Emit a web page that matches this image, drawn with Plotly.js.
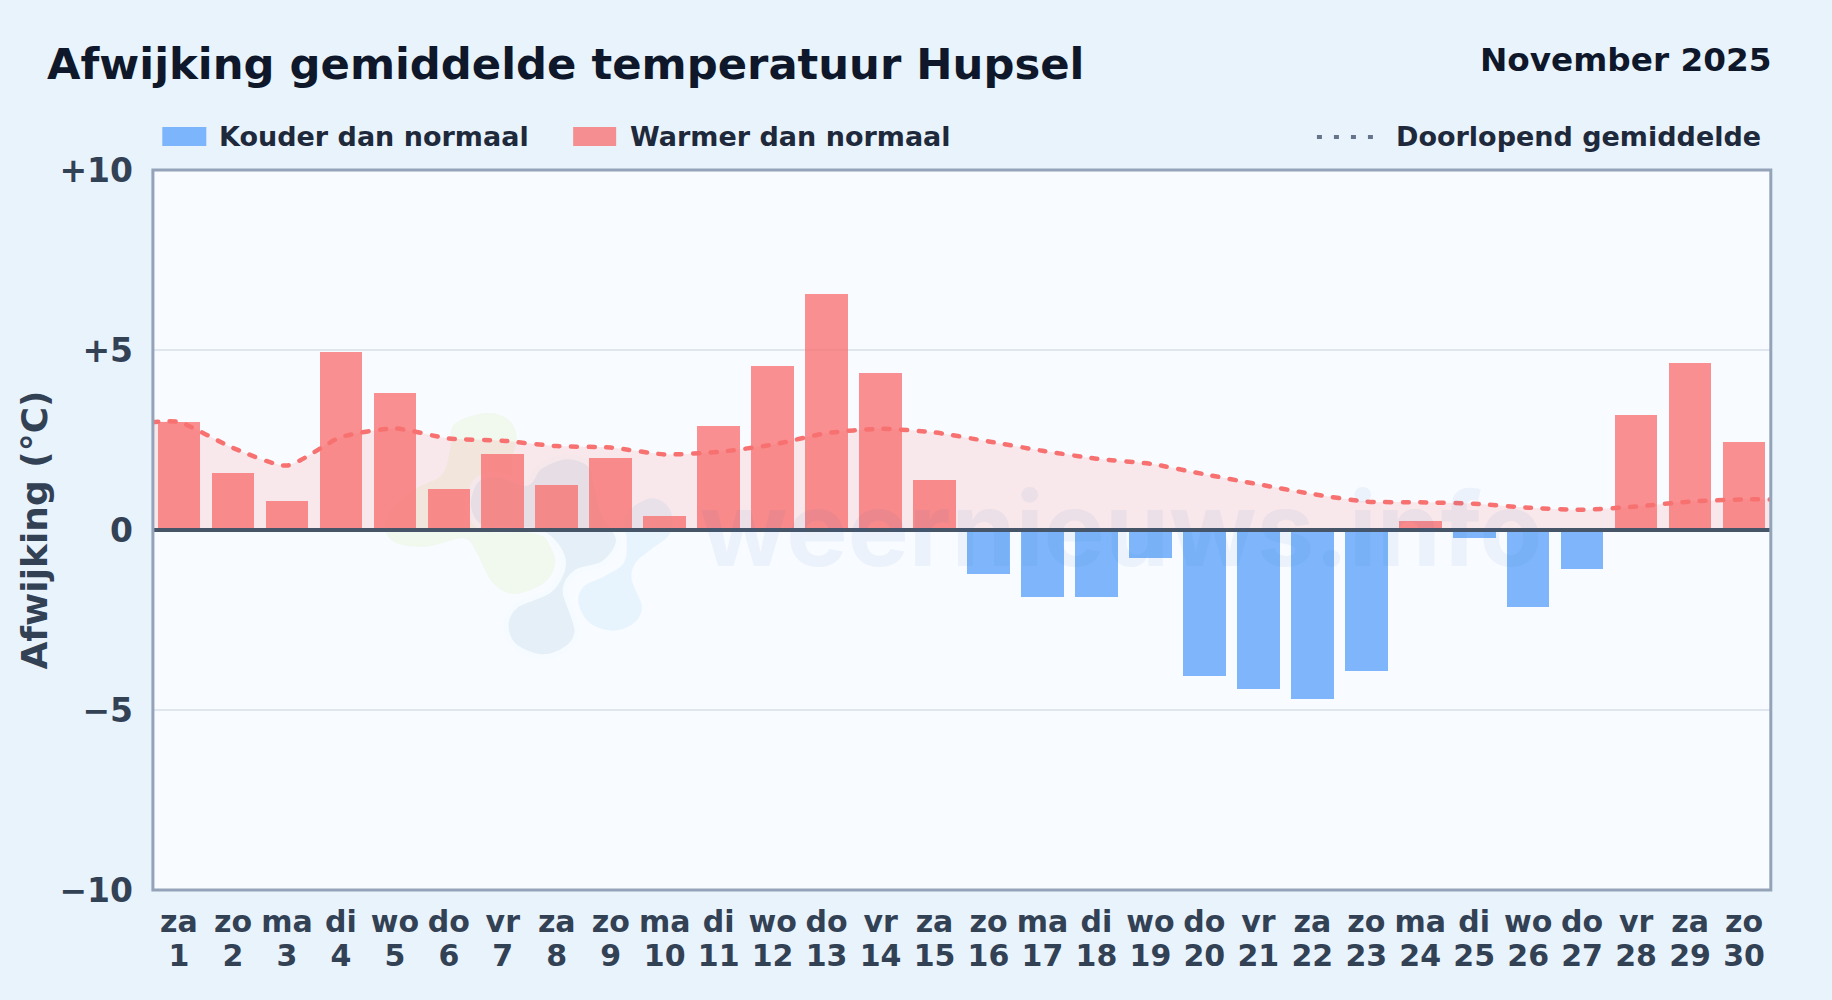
<!DOCTYPE html>
<html><head><meta charset="utf-8">
<script src="https://cdn.plot.ly/plotly-3.0.1.min.js"></script>
<style>
html,body{margin:0;padding:0;background:#e8f3fc;}
#chart{width:1832px;height:1000px;}
.scatterlayer .js-line{stroke-linecap:round;}
</style></head><body><div id="chart"></div>
<script>
const days = [1,2,3,4,5,6,7,8,9,10,11,12,13,14,15,16,17,18,19,20,21,22,23,24,25,26,27,28,29,30];
const weekdays = ['za','zo','ma','di','wo','do','vr','za','zo','ma','di','wo','do','vr','za','zo','ma','di','wo','do','vr','za','zo','ma','di','wo','do','vr','za','zo'];
const deviation = [3.0,1.57,0.8,4.95,3.8,1.15,2.1,1.25,2.0,0.4,2.9,4.55,6.55,4.35,1.4,-1.22,-1.87,-1.87,-0.77,-4.05,-4.43,-4.7,-3.92,0.25,-0.22,-2.13,-1.09,3.2,4.65,2.45];
const runningMean = [3.0,2.28,1.79,2.58,2.82,2.54,2.48,2.33,2.29,2.10,2.17,2.37,2.69,2.81,2.71,2.46,2.20,1.98,1.84,1.55,1.27,1.00,0.79,0.77,0.73,0.62,0.56,0.65,0.79,0.85];
const yTickValues = [10,5,0,-5,-10];
const yTickLabels = ['+10','+5','0','\u22125','\u221210'];
const titleText = 'Afwijking gemiddelde temperatuur Hupsel';
const periodText = 'November 2025';
const coldName = 'Kouder dan normaal';
const warmName = 'Warmer dan normaal';
const meanName = 'Doorlopend gemiddelde';

const W=1832,H=1000,L=151.7,R=1771.2,T=170,B=890;
const px=x=>(x-L)/(R-L), py=y=>(B-y)/(B-T);
const FONT='"DejaVu Sans", sans-serif';
const zx=z=>370+z/3, zy=z=>400+z/3;
function blob(pts){
  const P=pts.map(p=>[px(zx(p[0])),py(zy(p[1]))]),n=P.length;
  let d=`M${P[0][0]},${P[0][1]}`;
  for(let i=0;i<n;i++){
    const a=P[(i-1+n)%n],b=P[i],c=P[(i+1)%n],e=P[(i+2)%n];
    d+=`C${b[0]+(c[0]-a[0])/6},${b[1]+(c[1]-a[1])/6} ${c[0]-(e[0]-b[0])/6},${c[1]-(e[1]-b[1])/6} ${c[0]},${c[1]}`;
  }
  return d+'Z';
}
const greenBlob=[[340,40],[410,55],[440,110],[425,190],[450,300],[530,420],[555,490],[520,550],[430,582],[365,545],[320,460],[280,415],[170,440],[80,430],[45,390],[60,330],[140,265],[215,225],[240,150],[250,75]];
const lightBlob=[[790,320],[850,295],[900,330],[900,400],[840,450],[795,490],[785,540],[815,620],[790,670],[730,692],[660,670],[625,610],[640,560],[700,530],[760,490],[770,420],[760,360]];
const greyBlob=[[590,170],[660,195],[680,260],[700,340],[745,420],[700,490],[620,515],[585,570],[610,650],[620,700],[590,745],[515,770],[430,735],[408,670],[440,615],[540,570],[580,490],[545,420],[480,390],[340,385],[295,320],[320,240],[390,225],[470,250],[510,200]];

const lineX=[0.5,...days,30.5], lineY=[runningMean[0],...runningMean,runningMean[29]];
const traces=[
 {type:'scatter',mode:'none',x:lineX,y:lineY,line:{shape:'spline',smoothing:0.6},fill:'tozeroy',fillcolor:'rgba(248,113,113,0.14)',showlegend:false,hoverinfo:'skip'},
 {type:'bar',name:coldName,x:days.filter((d,i)=>deviation[i]<0),y:deviation.filter(v=>v<0),width:0.79,marker:{color:'rgba(96,165,250,0.8)',line:{width:0}},showlegend:false},
 {type:'bar',name:warmName,x:days.filter((d,i)=>deviation[i]>=0),y:deviation.filter(v=>v>=0),width:0.79,marker:{color:'rgba(248,113,113,0.78)',line:{width:0}},showlegend:false},
 {type:'scatter',mode:'lines',name:meanName,x:lineX,y:lineY,line:{shape:'spline',smoothing:0.6,color:'#f87171',width:4.5,dash:'6px,11.5px'},showlegend:false}
];
const layout={
 width:W,height:H,paper_bgcolor:'#e8f3fc',plot_bgcolor:'#f8fbff',
 margin:{l:L,r:W-R,t:T,b:H-B,pad:0},
 barmode:'overlay',bargap:0,
 font:{family:FONT},
 xaxis:{range:[0.5,30.5],tickmode:'array',tickvals:days,ticktext:weekdays.map((w,i)=>w+'<br>'+days[i]),tickfont:{family:FONT,size:30,color:'#334155',weight:700},ticks:'',showgrid:false,zeroline:false,showline:false,ticklabelstandoff:11,tickangle:0},
 yaxis:{range:[-10,10],tickmode:'array',tickvals:yTickValues,ticktext:yTickLabels,tickfont:{family:FONT,size:33,color:'#334155',weight:700},ticks:'',showgrid:true,gridcolor:'#dfe6ee',gridwidth:2,zeroline:false,showline:false,ticklabelstandoff:18,
   title:{text:'Afwijking (°C)',font:{family:FONT,size:36,color:'#334155',weight:700},standoff:0}},
 shapes:[
  {type:'path',xref:'paper',yref:'paper',layer:'below',path:blob(greenBlob),fillcolor:'#f1f8ee',line:{width:0}},
  {type:'path',xref:'paper',yref:'paper',layer:'below',path:blob(lightBlob),fillcolor:'#e7f4fd',line:{width:0}},
  {type:'path',xref:'paper',yref:'paper',layer:'below',path:blob(greyBlob),fillcolor:'#e5eff8',line:{width:5,color:'#f6fbff'}},
  {type:'line',xref:'paper',yref:'y',x0:0,x1:1,y0:0,y1:0,layer:'above',line:{color:'#475569',width:4}},
  {type:'rect',xref:'paper',yref:'paper',x0:px(152.6),x1:px(1771),y0:py(890),y1:py(170),layer:'above',fillcolor:'rgba(0,0,0,0)',line:{color:'#94a3b8',width:3}},
  {type:'rect',xref:'paper',yref:'paper',x0:px(162),x1:px(206),y0:py(127),y1:py(146),fillcolor:'rgba(96,165,250,0.8)',line:{width:0}},
  {type:'rect',xref:'paper',yref:'paper',x0:px(573),x1:px(616),y0:py(127),y1:py(146),fillcolor:'rgba(248,113,113,0.78)',line:{width:0}},
  {type:'line',xref:'paper',yref:'paper',x0:px(1317),x1:px(1373),y0:py(137),y1:py(137),line:{color:'#64748b',width:4,dash:'5px,12px'}}
 ],
 annotations:[
  {xref:'paper',yref:'paper',x:px(698),y:py(571),xanchor:'left',yanchor:'bottom',yshift:-22,showarrow:false,text:'weernieuws.info',font:{family:'Inter, sans-serif',size:103,weight:700,color:'rgba(30,100,180,0.06)'}},
  {xref:'paper',yref:'paper',x:px(44.7),y:py(64),xanchor:'left',yanchor:'middle',showarrow:false,text:titleText,font:{family:FONT,size:43.3,weight:700,color:'#0f172a'}},
  {xref:'paper',yref:'paper',x:px(1773.3),y:py(59.5),xanchor:'right',yanchor:'middle',showarrow:false,text:periodText,font:{family:FONT,size:32.7,weight:700,color:'#0f172a'}},
  {xref:'paper',yref:'paper',x:px(217),y:py(137),xanchor:'left',yanchor:'middle',showarrow:false,text:coldName,font:{family:FONT,size:27,weight:700,color:'#1e293b'}},
  {xref:'paper',yref:'paper',x:px(628),y:py(137),xanchor:'left',yanchor:'middle',showarrow:false,text:warmName,font:{family:FONT,size:27,weight:700,color:'#1e293b'}},
  {xref:'paper',yref:'paper',x:px(1763),y:py(137),xanchor:'right',yanchor:'middle',showarrow:false,text:meanName,font:{family:FONT,size:27,weight:700,color:'#1e293b'}}
 ]
};
Plotly.newPlot('chart',traces,layout,{displayModeBar:false,staticPlot:true}).then(()=>{
  document.querySelectorAll('.xtick text tspan.line').forEach(t=>{
    if(parseFloat(t.getAttribute('dy'))>0) t.setAttribute('dy','1.12em');
  });
});
</script></body></html>
